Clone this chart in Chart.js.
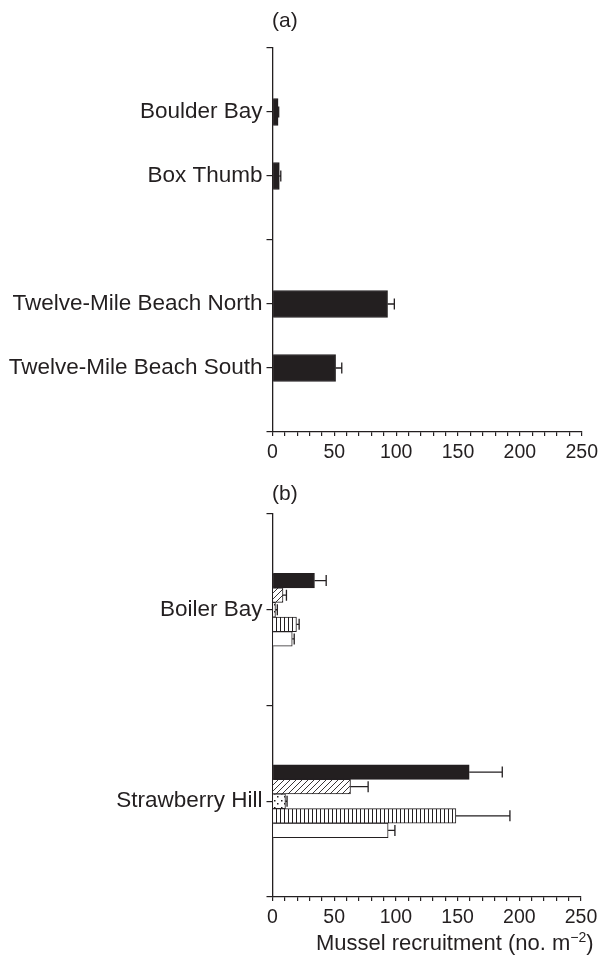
<!DOCTYPE html>
<html>
<head>
<meta charset="utf-8">
<script src="https://cdn.jsdelivr.net/npm/chart.js@4.4.0/dist/chart.umd.min.js"></script>
<style>
  body { margin: 0; background: #fff; font-family: "Liberation Sans", Arial, sans-serif; color: #231f20; }
  #wrap { position: relative; width: 603px; height: 965px; overflow: hidden; }
  canvas { position: absolute; left: 0; }
  .panel { position: absolute; left: 272px; font-size: 21px; }
  #xtitle { position: absolute; left: 316px; top: 929px; font-size: 22px; white-space: nowrap; }
  #xtitle sup { font-size: 14px; }
</style>
</head>
<body>
<div id="wrap">
  <canvas id="chartA" width="603" height="470" style="top:0"></canvas>
  <canvas id="chartB" width="603" height="495" style="top:470px"></canvas>
  <div class="panel" style="top:8px">(a)</div>
  <div class="panel" style="top:481px">(b)</div>
  <div id="xtitle">Mussel recruitment (no. m<sup>−2</sup>)</div>
</div>
<script>
// panel (a) - sites
const sitesA = ["", "Boulder Bay", "Box Thumb", "", "Twelve-Mile Beach North", "Twelve-Mile Beach South", ""];
const valuesA = [null, 4.5, 5.5, null, 93, 51, null];
const errorsA = [0, 0.5, 1.2, 0, 5.5, 5, 0];

// panel (b) - sites, five treatments each
const sitesB = ["", "Boiler Bay", "", "Strawberry Hill", ""];
const solidB = [null, 34, null, 159.4, null];
const solidErrB = [0, 9.5, 0, 26.8, 0];
const hatchB = [null, 8.5, null, 63.2, null];
const hatchErrB = [0, 2.8, 0, 14.3, 0];
const dotsB = [null, 2.4, null, 10.5, null];
const dotsErrB = [0, 1.5, 0, 1.3, 0];
const stripeB = [null, 19.4, null, 148.6, null];
const stripeErrB = [0, 2.2, 0, 43.8, 0];
const openB = [null, 16, null, 93.7, null];
const openErrB = [0, 1.6, 0, 5.5, 0];

const xTicks = { min: 0, max: 250, step: 10, labelEvery: 50 };
const FONT = '"Liberation Sans", Arial, sans-serif';
const INK = "#231f20";

function makePattern(kind) {
  const c = document.createElement("canvas");
  const ctx = c.getContext("2d");
  if (kind === "hatch") {
    c.width = 6; c.height = 6;
    ctx.fillStyle = "#fff"; ctx.fillRect(0, 0, 6, 6);
    ctx.strokeStyle = INK; ctx.lineWidth = 0.9;
    ctx.beginPath();
    ctx.moveTo(0, 6); ctx.lineTo(6, 0);
    ctx.moveTo(-1, 1); ctx.lineTo(1, -1);
    ctx.moveTo(5, 7); ctx.lineTo(7, 5);
    ctx.stroke();
  } else if (kind === "stripe") {
    c.width = 4; c.height = 4;
    ctx.fillStyle = "#fff"; ctx.fillRect(0, 0, 4, 4);
    ctx.fillStyle = INK; ctx.fillRect(0, 0, 1, 4);
  } else if (kind === "dots") {
    c.width = 7; c.height = 7;
    ctx.fillStyle = "#fff"; ctx.fillRect(0, 0, 7, 7);
    ctx.fillStyle = INK;
    ctx.fillRect(1, 1, 1.5, 1.5);
    ctx.fillRect(4, 4, 1.5, 1.5);
  }
  return ctx.createPattern(c, "repeat");
}

const errorBars = {
  id: "errorBars",
  afterDatasetsDraw(chart) {
    const ctx = chart.ctx;
    const xs = chart.scales.x;
    ctx.save();
    ctx.strokeStyle = INK;
    ctx.lineWidth = 1.3;
    chart.data.datasets.forEach((ds, di) => {
      const meta = chart.getDatasetMeta(di);
      meta.data.forEach((bar, i) => {
        const v = ds.data[i];
        const e = ds.errors[i];
        if (v == null || !e) return;
        const x1 = xs.getPixelForValue(v);
        const x2 = xs.getPixelForValue(v + e);
        const y = bar.y;
        ctx.beginPath();
        ctx.moveTo(x1, y); ctx.lineTo(x2, y);
        ctx.moveTo(x2, y - 5.5); ctx.lineTo(x2, y + 5.5);
        ctx.stroke();
      });
    });
    ctx.restore();
  }
};

function axes(yWidth, xHeight) {
  return {
    x: {
      type: "linear",
      min: xTicks.min, max: xTicks.max,
      afterFit: (a) => { a.height = xHeight; },
      border: { color: INK, width: 1.3 },
      grid: { drawOnChartArea: false, tickLength: 4, color: INK, lineWidth: 1.2 },
      ticks: {
        stepSize: xTicks.step, autoSkip: false, maxRotation: 0, padding: 5,
        color: INK, font: { family: FONT, size: 19.5 },
        callback: (v) => (v % xTicks.labelEvery === 0 ? v : "")
      }
    },
    y: {
      type: "category",
      offset: false,
      afterFit: (a) => { a.width = yWidth; },
      border: { color: INK, width: 1.3 },
      grid: { drawOnChartArea: false, tickLength: 6, color: INK, lineWidth: 1.2, offset: false },
      ticks: { autoSkip: false, padding: 4, color: INK, font: { family: FONT, size: 22.5 } }
    }
  };
}

const common = {
  responsive: false,
  animation: false,
  indexAxis: "y",
  plugins: { legend: { display: false }, tooltip: { enabled: false } }
};

new Chart(document.getElementById("chartA"), {
  type: "bar",
  data: {
    labels: sitesA,
    datasets: [{
      data: valuesA, errors: errorsA,
      backgroundColor: INK, borderColor: INK, borderWidth: 1, barThickness: 27
    }]
  },
  options: {
    ...common,
    layout: { padding: { top: 48, right: 20, left: 0, bottom: 0 } },
    scales: axes(272.5, 38)
  },
  plugins: [errorBars]
});

const seriesB = [
  { data: solidB, errors: solidErrB, fill: INK },
  { data: hatchB, errors: hatchErrB, fill: makePattern("hatch") },
  { data: dotsB, errors: dotsErrB, fill: makePattern("dots") },
  { data: stripeB, errors: stripeErrB, fill: makePattern("stripe") },
  { data: openB, errors: openErrB, fill: "#fff" }
];

new Chart(document.getElementById("chartB"), {
  type: "bar",
  data: {
    labels: sitesB,
    datasets: seriesB.map((s) => ({
      data: s.data, errors: s.errors,
      backgroundColor: s.fill, borderColor: INK, borderWidth: 1, barThickness: 14.6
    }))
  },
  options: {
    ...common,
    layout: { padding: { top: 44, right: 22, left: 0, bottom: 0 } },
    scales: axes(272.5, 68)
  },
  plugins: [errorBars]
});
</script>
</body>
</html>
